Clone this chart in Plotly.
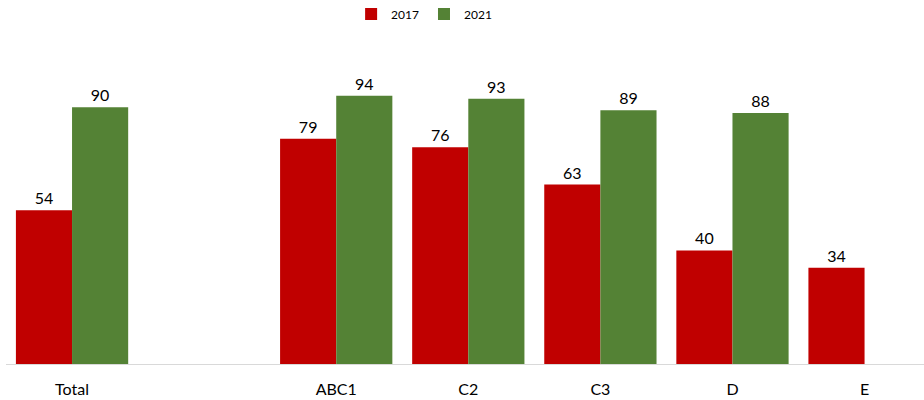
import plotly.graph_objects as go

categories = ["Total", " ", "ABC1", "C2", "C3", "D", "E"]
values_2017 = [54, None, 79, 76, 63, 40, 34]
values_2021 = [90, None, 94, 93, 89, 88, None]

RED = "#C00000"
GREEN = "#548235"
FONT = "Lato, 'Open Sans', sans-serif"

fig = go.Figure()
fig.add_trace(go.Bar(
    name="2017", x=categories, y=values_2017,
    marker=dict(color=RED, line=dict(width=0)),
    text=[f"{v}" if v is not None else "" for v in values_2017],
    textposition="outside", cliponaxis=False,
    textfont=dict(size=16, color="#000000", family=FONT),
))
fig.add_trace(go.Bar(
    name="2021", x=categories, y=values_2021,
    marker=dict(color=GREEN, line=dict(width=0)),
    text=[f"{v}" if v is not None else "" for v in values_2021],
    textposition="outside", cliponaxis=False,
    textfont=dict(size=16, color="#000000", family=FONT),
))

# baseline
fig.add_shape(type="line", xref="paper", yref="y", x0=0, x1=1, y0=0, y1=0,
              line=dict(color="#D9D9D9", width=2), layer="above")

fig.update_layout(
    width=924, height=400,
    margin=dict(l=6, r=0, t=50, b=35, autoexpand=False),
    barmode="group", bargap=0.15, bargroupgap=0,
    plot_bgcolor="white", paper_bgcolor="white",
    font=dict(family=FONT, color="#000000"),
    showlegend=True,
    legend=dict(orientation="h", xref="container", x=0.459, xanchor="center",
                yref="container", y=0.965, yanchor="middle",
                font=dict(size=12), traceorder="normal"),
    xaxis=dict(type="category", categoryorder="array", categoryarray=categories,
               range=[-0.5, 6.45], showgrid=False, zeroline=False, showline=False,
               ticks="", tickfont=dict(size=16), ticklabelstandoff=13, automargin=False),
    yaxis=dict(range=[0, 110], visible=False, showgrid=False, zeroline=False),
)

# page body has a default margin; drop it so the figure sits at the window corner
fig.write_html("out.html", config={"displayModeBar": False},
               post_script="document.body.style.margin='0';")
